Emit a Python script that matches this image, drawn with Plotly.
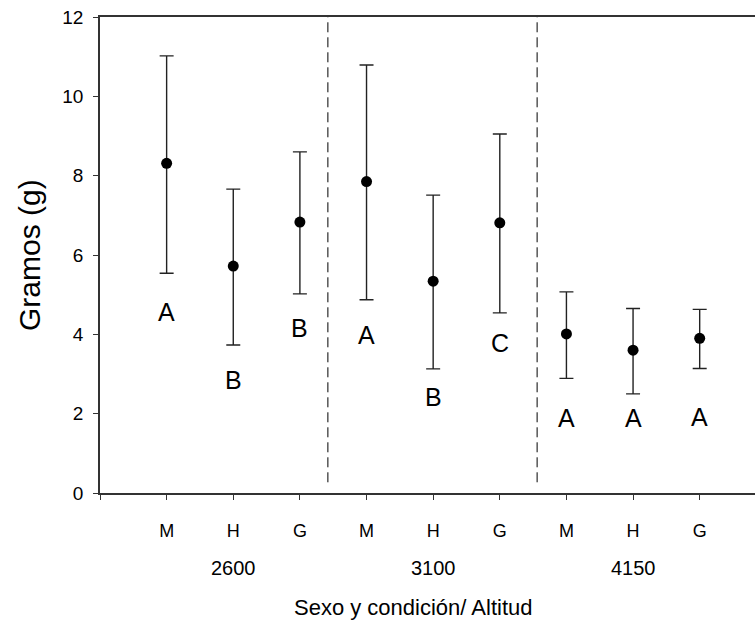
import plotly.graph_objects as go

# Data
x_pos = [1, 2, 3, 4, 5, 6, 7, 8, 9]
sexo = ["M", "H", "G", "M", "H", "G", "M", "H", "G"]
altitudes = ["2600", "3100", "4150"]
altitude_center = [2, 5, 8]
means = [8.31, 5.72, 6.83, 7.85, 5.34, 6.81, 4.01, 3.60, 3.90]
upper = [11.02, 7.66, 8.60, 10.79, 7.51, 9.05, 5.07, 4.65, 4.63]
lower = [5.54, 3.73, 5.02, 4.87, 3.13, 4.54, 2.89, 2.50, 3.14]
letters = ["A", "B", "B", "A", "B", "C", "A", "A", "A"]
letter_y = [4.56, 2.85, 4.16, 3.98, 2.43, 3.78, 1.89, 1.89, 1.92]
separators = [3.42, 6.56]

FONT = "Arial, Liberation Sans, sans-serif"

err_plus = [u - m for u, m in zip(upper, means)]
err_minus = [m - l for m, l in zip(means, lower)]

fig = go.Figure()
fig.add_trace(go.Scatter(
    x=x_pos, y=means, mode="markers",
    marker=dict(color="black", size=11),
    error_y=dict(type="data", symmetric=False, array=err_plus, arrayminus=err_minus,
                 color="#222222", thickness=1.4, width=7),
    showlegend=False, hoverinfo="skip",
))

for sx in separators:
    fig.add_shape(type="line", x0=sx, x1=sx, y0=0.27, y1=12, xref="x", yref="y",
                  line=dict(color="#000000", width=1, dash="10px,5px"))

for xv, lt, ly in zip(x_pos, letters, letter_y):
    fig.add_annotation(x=xv, y=ly, text=lt, showarrow=False, xref="x", yref="y",
                       font=dict(family=FONT, size=25, color="black"))

for xc, alt in zip(altitude_center, altitudes):
    fig.add_annotation(x=xc, y=0, yref="paper", xref="x", text=alt, showarrow=False,
                       yanchor="middle", yshift=-75,
                       font=dict(family=FONT, size=20, color="black"))

fig.add_annotation(x=0.478, xref="paper", y=0, yref="paper", yshift=-114,
                   text="Sexo y condición/ Altitud", showarrow=False, yanchor="middle",
                   font=dict(family=FONT, size=22, color="black"))

fig.add_annotation(x=0, xref="paper", xshift=-71, y=0.5, yref="paper",
                   text="Gramos (g)", showarrow=False, textangle=-90,
                   xanchor="center", yanchor="middle",
                   font=dict(family=FONT, size=30, color="black"))

fig.update_layout(
    width=755, height=624,
    margin=dict(l=100, r=0, t=17, b=131),
    plot_bgcolor="white", paper_bgcolor="white",
    font=dict(family=FONT, color="black"),
    xaxis=dict(
        range=[0, 9.83], tickmode="array",
        tickvals=[0] + x_pos, ticktext=[""] + sexo,
        ticks="outside", ticklen=5, tickwidth=1.4, tickcolor="#333333",
        showline=True, linecolor="#333333", linewidth=1.5, mirror=True,
        showgrid=False, zeroline=False,
        ticklabelstandoff=16,
        tickfont=dict(family=FONT, size=18, color="black"),
    ),
    yaxis=dict(
        range=[0, 12], tickvals=[0, 2, 4, 6, 8, 10, 12],
        ticks="outside", ticklen=5, tickwidth=1.4, tickcolor="#333333",
        showline=True, linecolor="#333333", linewidth=1.5,
        showgrid=False, zeroline=False,
        ticklabelstandoff=6,
        tickfont=dict(family=FONT, size=19, color="black"),
    ),
)

fig.write_html("out.html")
